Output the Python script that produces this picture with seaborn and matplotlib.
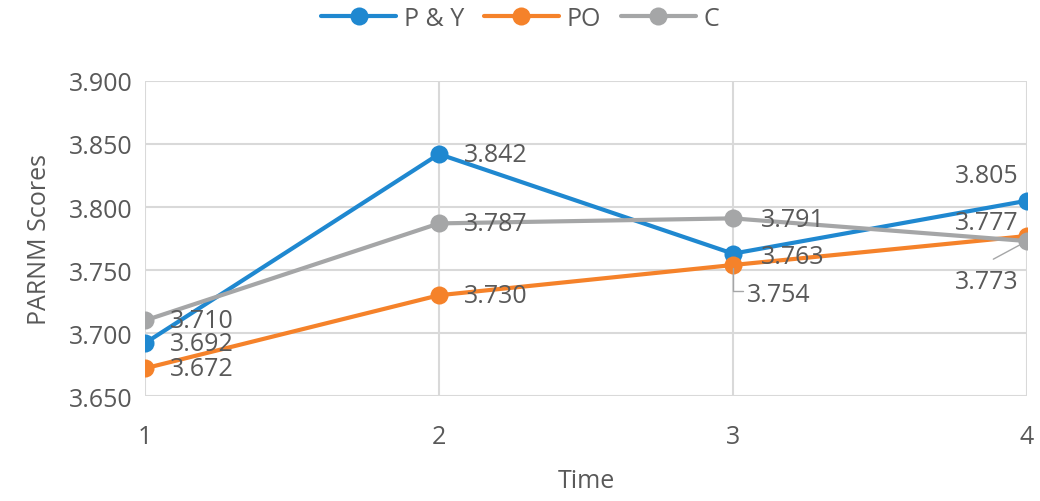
import matplotlib
matplotlib.use("Agg")
import matplotlib.pyplot as plt
import pandas as pd
import seaborn as sns

# chart data
times = [1, 2, 3, 4]
py_scores = [3.692, 3.842, 3.763, 3.805]
po_scores = [3.672, 3.730, 3.754, 3.777]
c_scores = [3.710, 3.787, 3.791, 3.773]
groups = ["P & Y", "PO", "C"]
y_ticks = [3.650, 3.700, 3.750, 3.800, 3.850, 3.900]

colors = {"P & Y": "#1f88d0", "PO": "#f5822a", "C": "#a5a6a7"}
text_color = "#595959"
grid_color = "#d9d9d9"
fs = 18

df = pd.concat([
    pd.DataFrame({"Time": times, "Score": vals, "Group": g})
    for g, vals in zip(groups, [py_scores, po_scores, c_scores])
], ignore_index=True)

sns.set_style("white")
plt.rcParams["font.family"] = ["Open Sans", "DejaVu Sans"]

fig = plt.figure(figsize=(10.4, 5.02), dpi=100)
ax = fig.add_axes([0.1394, 0.209, 0.8481, 0.6277])

sns.lineplot(data=df, x="Time", y="Score", hue="Group", hue_order=groups,
             palette=colors, marker="o", markersize=13, markeredgewidth=0,
             linewidth=3, ax=ax, zorder=3)

ax.set_xlim(1, 4)
ax.set_ylim(3.650, 3.900)
ax.set_xticks(times)
ax.set_yticks(y_ticks)
ax.set_yticklabels([f"{t:.3f}" for t in y_ticks])
ax.grid(True, color=grid_color, linewidth=1.5, zorder=0)
for s in ax.spines.values():
    s.set_visible(False)
ax.tick_params(axis="both", length=0, labelsize=fs, colors=text_color)
ax.tick_params(axis="x", pad=20)
ax.tick_params(axis="y", pad=9)
ax.set_xlabel("Time", fontsize=fs, color=text_color, labelpad=14)
ax.set_ylabel("PARNM Scores", fontsize=fs, color=text_color, labelpad=12)

# data label placement (offsets in points)
label_offsets = {
    "P & Y": [(18, 0), (18, 0), (20, -2), (-29, 18)],
    "PO": [(18, 0), (18, 0), (10, -21), (-29, 10)],
    "C": [(18, 0), (18, 0), (20, -1), (-29, -29)],
}
for g, vals in zip(groups, [py_scores, po_scores, c_scores]):
    for t, v, off in zip(times, vals, label_offsets[g]):
        ax.annotate(f"{v:.3f}", (t, v), xytext=off, textcoords="offset points",
                    ha="left" if off[0] > 0 else "center", va="center",
                    fontsize=fs, color=text_color, zorder=4)

# leader lines for the two crowded labels
ax.annotate("", (3, po_scores[2]), xytext=(9, -19), textcoords="offset points",
            arrowprops=dict(arrowstyle="-", color="#a5a6a7", lw=1,
                            connectionstyle="angle,angleA=0,angleB=90,rad=0"))
ax.annotate("", (4, c_scores[3]), xytext=(-26, -14), textcoords="offset points",
            arrowprops=dict(arrowstyle="-", color="#a5a6a7", lw=1, shrinkB=6))

handles, labels = ax.get_legend_handles_labels()
ax.legend_.remove()
fig.legend(handles, labels, loc="center", bbox_to_anchor=(0.5, 0.962), ncol=3,
           frameon=False, fontsize=fs, labelcolor=text_color, handlelength=3,
           columnspacing=0.8, handletextpad=0.3)

fig.savefig("out.png", dpi=100)
